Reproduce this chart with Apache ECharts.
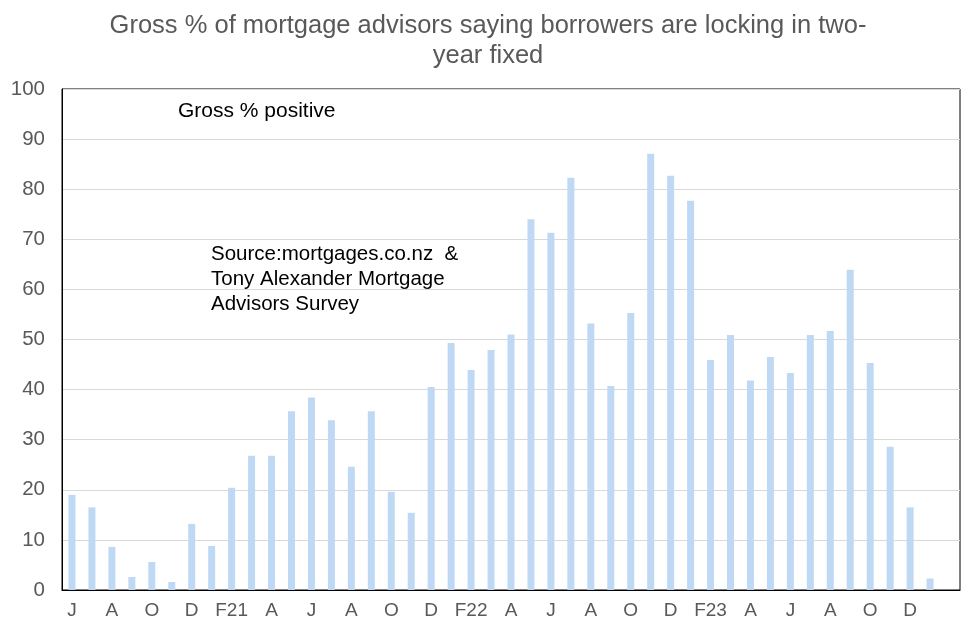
<!DOCTYPE html>
<html>
<head>
<meta charset="utf-8">
<script src="https://cdn.jsdelivr.net/npm/echarts@6/dist/echarts.min.js"></script>
<style>html,body{margin:0;padding:0;background:#fff;}#c{width:976px;height:636px;}</style>
</head>
<body>
<div id="c"></div>
<script>
const categories = ['2020-06','2020-07','2020-08','2020-09','2020-10','2020-11','2020-12','2021-01','2021-02','2021-03','2021-04','2021-05','2021-06','2021-07','2021-08','2021-09','2021-10','2021-11','2021-12','2022-01','2022-02','2022-03','2022-04','2022-05','2022-06','2022-07','2022-08','2022-09','2022-10','2022-11','2022-12','2023-01','2023-02','2023-03','2023-04','2023-05','2023-06','2023-07','2023-08','2023-09','2023-10','2023-11','2023-12','2024-01','2024-02'];
const tickLabels = ['J','','A','','O','','D','','F21','','A','','J','','A','','O','','D','','F22','','A','','J','','A','','O','','D','','F23','','A','','J','','A','','O','','D','','',''];
const grossPositive = [19,16.5,8.6,2.6,5.6,1.6,13.2,8.8,20.4,26.8,26.8,35.7,38.4,33.9,24.6,35.7,19.6,15.4,40.5,49.3,43.9,47.9,51,74,71.3,82.3,53.2,40.7,55.3,87.1,82.7,77.7,45.9,50.9,41.8,46.5,43.3,50.9,51.7,63.9,45.3,28.6,16.5,2.3,null];

const chart = echarts.init(document.getElementById('c'));
chart.setOption({
  animation: false,
  backgroundColor: '#fff',
  title: {
    text: 'Gross % of mortgage advisors saying borrowers are locking in two-\nyear fixed',
    left: 'center', top: 6,
    textStyle: { fontFamily: 'Liberation Sans', fontSize: 25.5, fontWeight: 'normal', color: '#595959', lineHeight: 30 }
  },
  grid: { left: 62, right: 16, top: 89, bottom: 46, show: true, borderColor: '#000', borderWidth: 1, backgroundColor: 'transparent' },
  xAxis: {
    type: 'category', data: categories, boundaryGap: true,
    axisLine: { lineStyle: { color: '#000', width: 1 } },
    axisTick: { show: false },
    axisLabel: { interval: 0, color: '#595959', fontFamily: 'Liberation Sans', fontSize: 19, margin: 11,
      formatter: (v, i) => tickLabels[i] }
  },
  yAxis: {
    type: 'value', min: 0, max: 100, interval: 10,
    axisLine: { show: true, lineStyle: { color: '#000' } },
    axisTick: { show: false },
    splitLine: { lineStyle: { color: '#d9d9d9', width: 1 } },
    axisLabel: { color: '#595959', fontFamily: 'Liberation Sans', fontSize: 20.5, margin: 17 }
  },
  series: [{
    type: 'bar', data: grossPositive, barWidth: 7,
    itemStyle: { color: '#bfd9f5' }
  }],
  graphic: [
    { type: 'text', left: 178, top: 101, style: { text: 'Gross % positive', font: '21px "Liberation Sans"', fill: '#000' } },
    { type: 'text', left: 211, top: 242, style: { text: 'Source:mortgages.co.nz  &\nTony Alexander Mortgage\nAdvisors Survey', font: '20.5px "Liberation Sans"', fill: '#000', lineHeight: 24.8 } }
  ]
});
</script>
</body>
</html>
